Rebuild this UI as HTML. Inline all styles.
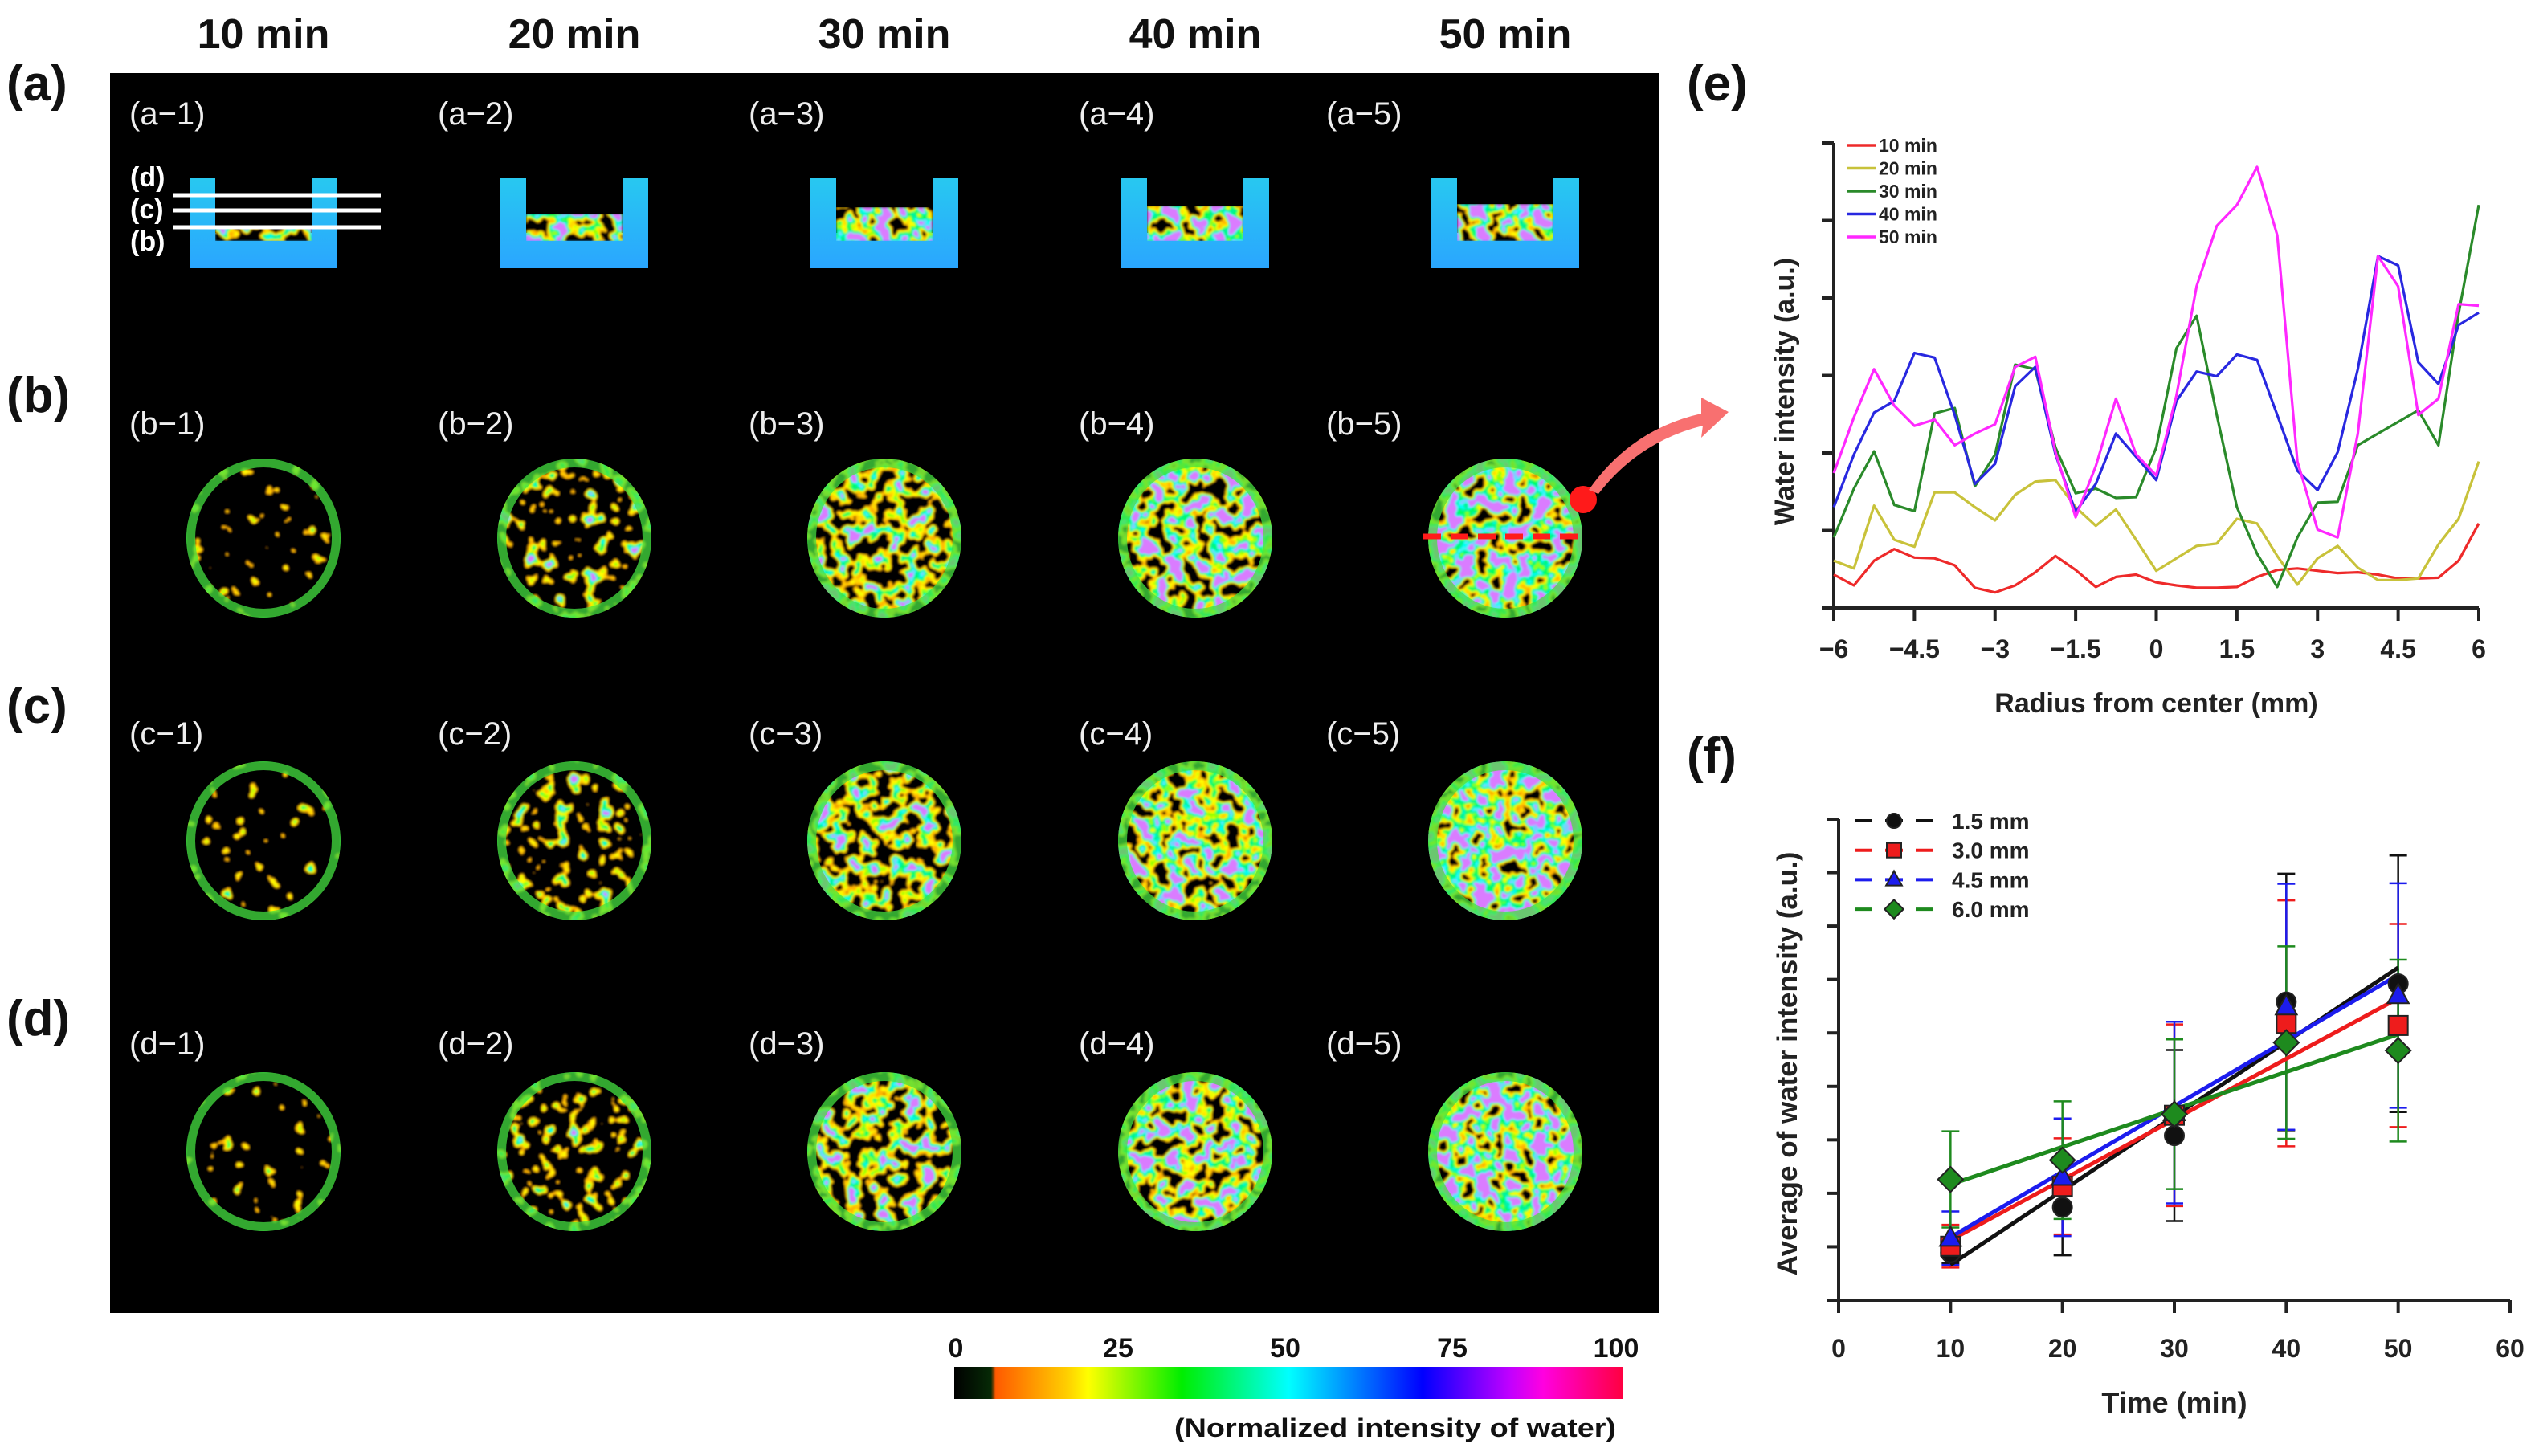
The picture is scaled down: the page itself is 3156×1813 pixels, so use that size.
<!DOCTYPE html>
<html><head><meta charset="utf-8">
<style>
html,body{margin:0;padding:0;background:#fff;}
svg{display:block;font-family:"Liberation Sans",Arial,sans-serif;}
</style></head>
<body>
<svg id="fig" width="3156" height="1813" viewBox="0 0 3156 1813" xmlns="http://www.w3.org/2000/svg">
<defs>
  <linearGradient id="cbar" x1="0" x2="1" y1="0" y2="0">
    <stop offset="0" stop-color="#000"/><stop offset="0.055" stop-color="#062a06"/>
    <stop offset="0.062" stop-color="#ff5a00"/><stop offset="0.17" stop-color="#ffd000"/>
    <stop offset="0.2" stop-color="#ffff00"/><stop offset="0.34" stop-color="#00ee00"/>
    <stop offset="0.5" stop-color="#00ffff"/><stop offset="0.7" stop-color="#0000ff"/>
    <stop offset="0.83" stop-color="#c000ff"/><stop offset="0.88" stop-color="#ff00e0"/>
    <stop offset="1" stop-color="#ff0040"/>
  </linearGradient>
  <linearGradient id="cupg" x1="0" x2="0" y1="0" y2="1">
    <stop offset="0" stop-color="#28c8f0"/><stop offset="1" stop-color="#2aa6ff"/>
  </linearGradient>
</defs>
<rect x="137" y="91" width="1928" height="1544" fill="#000"/>
<g id="mri"></g>
<g id="labels"></g>
<g id="colorbar">
  <rect x="1188" y="1702" width="833" height="40" fill="url(#cbar)"/>
  <g font-size="34" font-weight="bold" fill="#111" text-anchor="middle">
    <text x="1190" y="1690">0</text>
    <text x="1392" y="1690">25</text>
    <text x="1600" y="1690">50</text>
    <text x="1808" y="1690">75</text>
    <text x="2012" y="1690">100</text>
  </g>
  <text x="2012" y="1789" font-size="32" font-weight="bold" fill="#111" text-anchor="end" textLength="550" lengthAdjust="spacingAndGlyphs">(Normalized intensity of water)</text>
</g>
<g id="chartE"></g>
<g id="chartF"></g>
</svg>
<script>
// ---------- Chart (e) data ----------
const radiusMM = [-6,-5.625,-5.25,-4.875,-4.5,-4.125,-3.75,-3.375,-3,-2.625,-2.25,-1.875,-1.5,-1.125,-0.75,-0.375,0,0.375,0.75,1.125,1.5,1.875,2.25,2.625,3,3.375,3.75,4.125,4.5,4.875,5.25,5.625,6];
const eLabels = ["10 min","20 min","30 min","40 min","50 min"];
const eColors = ["#ee2a2a","#c8c23a","#2a8a2a","#2828e0","#ff28ff"];
const e10 = [0.43,0.29,0.61,0.76,0.65,0.64,0.55,0.26,0.20,0.29,0.46,0.67,0.49,0.27,0.40,0.43,0.33,0.29,0.26,0.26,0.27,0.40,0.49,0.51,0.48,0.45,0.46,0.43,0.38,0.38,0.39,0.61,1.09];
const e20 = [0.61,0.51,1.32,0.88,0.79,1.49,1.49,1.30,1.13,1.46,1.63,1.65,1.30,1.06,1.27,0.88,0.48,0.64,0.80,0.83,1.15,1.09,0.67,0.30,0.64,0.80,0.52,0.36,0.36,0.38,0.82,1.15,1.89];
const e30 = [0.91,1.54,2.02,1.33,1.25,2.51,2.58,1.57,1.98,3.14,3.08,2.07,1.48,1.54,1.42,1.43,2.07,3.35,3.77,2.49,1.30,0.70,0.27,0.91,1.36,1.37,2.10,2.25,2.40,2.55,2.10,3.80,5.20];
const e40 = [1.30,1.98,2.52,2.67,3.29,3.23,2.49,1.60,1.86,2.86,3.11,1.98,1.24,1.60,2.25,1.95,1.65,2.67,3.05,2.99,3.27,3.20,2.49,1.77,1.52,2.01,3.08,4.54,4.42,3.17,2.89,3.65,3.81];
const e50 = [1.74,2.46,3.08,2.61,2.35,2.43,2.10,2.25,2.37,3.11,3.24,2.01,1.17,1.83,2.70,1.98,1.71,2.74,4.15,4.93,5.20,5.69,4.81,1.89,1.01,0.91,2.25,4.54,4.15,2.49,2.70,3.92,3.90];
const eXTicks = [-6,-4.5,-3,-1.5,0,1.5,3,4.5,6];
const eXTickLabels = ["\u22126","\u22124.5","\u22123","\u22121.5","0","1.5","3","4.5","6"];
const eYTicks = [0,1,2,3,4,5,6];

// ---------- Chart (f) data ----------
const fTimes = [10,20,30,40,50];
const fLabels = ["1.5 mm","3.0 mm","4.5 mm","6.0 mm"];
const fColors = ["#111111","#ee1c1c","#1c1cee","#1e8a1e"];
const fMarkers = ["circle","square","triangle","diamond"];
const f15 = [0.89,1.74,3.08,5.58,5.92];
const f30 = [1.01,2.13,3.46,5.18,5.14];
const f45 = [1.16,2.30,3.51,5.49,5.70];
const f60 = [2.26,2.62,3.48,4.82,4.67];
const f15err = [0.2,0.9,1.6,2.4,2.4];
const f30err = [0.4,0.9,1.7,2.3,1.9];
const f45err = [0.5,1.1,1.7,2.3,2.1];
const f60err = [0.9,1.1,1.4,1.8,1.7];
const fXTicks = [0,10,20,30,40,50,60];
const fYTicks = [0,1,2,3,4,5,6,7,8,9];

const NS = "http://www.w3.org/2000/svg";
function mk(tag, attrs, parent){ const el=document.createElementNS(NS,tag); for(const k in attrs) el.setAttribute(k,attrs[k]); parent.appendChild(el); return el; }

// ---------- MRI panel ----------
const mri = document.getElementById('mri');
const defs = document.querySelector('defs');
const colX = [328,715,1101,1488,1874];
const rowY = [670,1047,1434];
const blackShift = [0.45,0.3,0.15,0.08,0.03];
for(let c=0;c<5;c++){
  const f = mk('filter',{id:'tex'+c,x:'0',y:'0',width:'1',height:'1'},defs);
  mk('feTurbulence',{type:'fractalNoise',baseFrequency:'0.055',numOctaves:'2',seed:String(3+c*7),result:'n'},f);
  const a=3.0, b=-0.95 - blackShift[c]*2 + c*0.04;
  mk('feColorMatrix',{type:'matrix',values:`${a} 0 0 0 ${b}  ${a} 0 0 0 ${b}  ${a} 0 0 0 ${b}  0 0 0 0 1`},f);
  const ct = mk('feComponentTransfer',{},f);
  mk('feFuncR',{type:'discrete',tableValues:'0 0 0 1 1 1 0.3 0 0 0 0.2 0.7'},ct);
  mk('feFuncG',{type:'discrete',tableValues:'0 0 0 0.45 0.7 1 1 1 0.9 1 0.6 0.2'},ct);
  mk('feFuncB',{type:'discrete',tableValues:'0 0 0 0 0 0 0 0.1 0.3 0.9 1 1'},ct);
  mk('feGaussianBlur',{stdDeviation:'1.2'},f);
  for(let r=0;r<3;r++){
    const cx=colX[c], cy=rowY[r];
    const cp = mk('clipPath',{id:`cp${c}${r}`},defs);
    mk('ellipse',{cx:cx,cy:cy,rx:96,ry:99},cp);
    const g = mk('g',{'clip-path':`url(#cp${c}${r})`},mri);
    
    
    mk('ellipse',{cx:cx,cy:cy,rx:96,ry:99,fill:'#22dd44'},g);
    mk('rect',{x:cx-96,y:cy-99,width:192,height:198,filter:`url(#tex${c})`},g);
    mk('ellipse',{cx:cx,cy:cy,rx:91,ry:94,fill:'none',stroke:'#44e040','stroke-width':12,opacity:0.75},g);
  }
  const cx=colX[c], top=222;
  const cup = mk('g',{},mri);
  
  
  mk('path',{d:`M${cx-92} ${top} h32 v68 h120 v-68 h32 v112 h-184 z`,fill:'url(#cupg)'},cup);
  const fillH = [18,36,44,46,48][c];
  mk('rect',{x:cx-60,y:top+68-fillH+12,width:120,height:fillH-2,filter:`url(#tex${Math.min(4,c+2)})`},cup);
}
[243,262,283].forEach((y,i)=>{
  const l = mk('line',{x1:215,x2:474,y1:y,y2:y,stroke:'#fff','stroke-width':5},mri);
  
  
});
[['(d)',232],['(c)',272],['(b)',312]].forEach(([t,y])=>{
  const e = mk('text',{x:162,y:y,fill:'#fff','font-size':34,'font-weight':'bold'},mri); e.textContent=t;
  
  
});
const dl = mk('line',{x1:1772,x2:1972,y1:668,y2:668,stroke:'#ff1a1a','stroke-width':7,'stroke-dasharray':'22 12'},mri);


const dot = mk('circle',{cx:1971,cy:622,r:17,fill:'#ff1a1a'},mri);


const arr = mk('path',{d:'M1978 610 Q2030 535 2118 515 L2118 495 L2152 513 L2118 545 L2120 530 Q2040 550 1990 615 Z',fill:'#f87070'},mri);



const lab = document.getElementById('labels');
const heads = ["10 min","20 min","30 min","40 min","50 min"];
heads.forEach((h,i)=>{
  const t = mk('text',{x:colX[i],y:60,'font-size':52,'font-weight':'bold','text-anchor':'middle',fill:'#111'},lab); t.textContent=h;
  
  
});
[['(a)',125],['(b)',513],['(c)',900],['(d)',1289],].forEach(([t,y])=>{
  const e = mk('text',{x:8,y:y,'font-size':62,'font-weight':'bold',fill:'#111'},lab); e.textContent=t;
  
  
});
const subX = [161,545,932,1343,1651];
const subY = [155,541,927,1313];
'abcd'.split('').forEach((r,ri)=>{
  for(let c=0;c<5;c++){
    const e = mk('text',{x:subX[c],y:subY[ri],'font-size':40,fill:'#eee'},lab); e.textContent=`(${r}\u2212${c+1})`;
    
    
  }
});
[['(e)',2100,125],['(f)',2100,962]].forEach(([t,x,y])=>{
  const e = mk('text',{x:x,y:y,'font-size':62,'font-weight':'bold',fill:'#111'},lab); e.textContent=t;
  
  
});

// ---------- Chart (e) ----------
(function(){
  const g = document.getElementById('chartE');
  const X0=2283, X1=3086, Y0=757, Y1=178;
  const sx = v => X0 + (v+6)/12*(X1-X0);
  const sy = v => Y0 - v/6*(Y0-Y1);
  const ax = mk('path',{d:`M${X0} ${Y1} V${Y0} M${X0-14} ${Y0} H${X1}`,stroke:'#222','stroke-width':4,fill:'none'},g);
  
  
  eYTicks.forEach(v=>{ const t=mk('line',{x1:X0-15,x2:X0,y1:sy(v),y2:sy(v),stroke:'#222','stroke-width':4},g);
    
     });
  eXTicks.forEach((v,i)=>{
    const t=mk('line',{x1:sx(v),x2:sx(v),y1:Y0,y2:Y0+16,stroke:'#222','stroke-width':4},g);
    
    
    const l=mk('text',{x:sx(v),y:Y0+62,'font-size':32,'font-weight':'bold','text-anchor':'middle',fill:'#222'},g); l.textContent=eXTickLabels[i];
    
    
  });
  const xt=mk('text',{x:(X0+X1)/2,y:887,'font-size':34,'font-weight':'bold','text-anchor':'middle',fill:'#222'},g); xt.textContent='Radius from center (mm)';
  
  
  const yt=mk('text',{x:0,y:0,'font-size':34,'font-weight':'bold','text-anchor':'middle',fill:'#222',transform:`translate(2233 ${(Y0+Y1)/2+20}) rotate(-90)`},g); yt.textContent='Water intensity (a.u.)';
  
  
  const series=[e10,e20,e30,e40,e50];
  series.forEach((s,k)=>{
    const d = s.map((v,i)=>(i?'L':'M')+sx(radiusMM[i]).toFixed(1)+' '+sy(v).toFixed(1)).join(' ');
    const p=mk('path',{d:d,fill:'none',stroke:eColors[k],'stroke-width':3.2,'stroke-linejoin':'round'},g);
    
    
    const ly = 181 + k*28.5;
    const ll=mk('line',{x1:2299,x2:2336,y1:ly,y2:ly,stroke:eColors[k],'stroke-width':3.5},g);
    
    
    const lt=mk('text',{x:2339,y:ly+8,'font-size':23,'font-weight':'bold',fill:'#222'},g); lt.textContent=eLabels[k];
    
    
  });
})();

// ---------- Chart (f) ----------
(function(){
  const g = document.getElementById('chartF');
  const X0=2289, X1=3125, Y0=1619, Y1=1020;
  const sx = v => X0 + v/60*(X1-X0);
  const sy = v => Y0 - v/9*(Y0-Y1);
  const ax=mk('path',{d:`M${X0} ${Y1} V${Y0} M${X0-15} ${Y0} H${X1}`,stroke:'#222','stroke-width':4,fill:'none'},g);
  
  
  fYTicks.forEach(v=>{ const t=mk('line',{x1:X0-15,x2:X0,y1:sy(v),y2:sy(v),stroke:'#222','stroke-width':4},g);
    
     });
  fXTicks.forEach(v=>{
    const t=mk('line',{x1:sx(v),x2:sx(v),y1:Y0,y2:Y0+16,stroke:'#222','stroke-width':4},g);
    
    
    const l=mk('text',{x:sx(v),y:Y0+71,'font-size':32,'font-weight':'bold','text-anchor':'middle',fill:'#222'},g); l.textContent=String(v);
    
    
  });
  const xt=mk('text',{x:(X0+X1)/2,y:1759,'font-size':36,'font-weight':'bold','text-anchor':'middle',fill:'#222'},g); xt.textContent='Time (min)';
  
  
  const yt=mk('text',{x:0,y:0,'font-size':35,'font-weight':'bold','text-anchor':'middle',fill:'#222',transform:`translate(2237 ${(Y0+Y1)/2+5}) rotate(-90)`},g); yt.textContent='Average of water intensity (a.u.)';
  
  
  const vals=[f15,f30,f45,f60], errs=[f15err,f30err,f45err,f60err];
  function marker(type,x,y,col,parent,s){
    let m;
    if(type==='circle') m=mk('circle',{cx:x,cy:y,r:s},parent);
    else if(type==='square') m=mk('rect',{x:x-s,y:y-s,width:2*s,height:2*s},parent);
    else if(type==='triangle') m=mk('path',{d:`M${x} ${y-s*1.2} L${x+s*1.1} ${y+s*0.8} L${x-s*1.1} ${y+s*0.8} Z`},parent);
    else m=mk('path',{d:`M${x} ${y-s*1.3} L${x+s*1.3} ${y} L${x} ${y+s*1.3} L${x-s*1.3} ${y} Z`},parent);
    m.setAttribute('fill',col); m.setAttribute('stroke','#222'); m.setAttribute('stroke-width',2);
    return m;
  }
  vals.forEach((s,k)=>{
    s.forEach((v,i)=>{
      const x=sx(fTimes[i]), e=errs[k][i];
      const eb=mk('path',{d:`M${x} ${sy(v-e)} V${sy(v+e)} M${x-11} ${sy(v-e)} h22 M${x-11} ${sy(v+e)} h22`,stroke:fColors[k],'stroke-width':2.5,fill:'none'},g);
      
      
    });
  });
  vals.forEach((s,k)=>{
    const n=s.length, mx=fTimes.reduce((a,b)=>a+b)/n, my=s.reduce((a,b)=>a+b)/n;
    let num=0,den=0; for(let i=0;i<n;i++){num+=(fTimes[i]-mx)*(s[i]-my);den+=(fTimes[i]-mx)**2;}
    const b=num/den, a=my-b*mx;
    const ln=mk('line',{x1:sx(10),y1:sy(a+b*10),x2:sx(50),y2:sy(a+b*50),stroke:fColors[k],'stroke-width':5},g);
    
    
  });
  vals.forEach((s,k)=>{
    s.forEach((v,i)=>{
      const m=marker(fMarkers[k],sx(fTimes[i]),sy(v),fColors[k],g,12);
      
      
    });
    const ly=1022+k*36.7;
    const ll=mk('line',{x1:2309,x2:2406,y1:ly,y2:ly,stroke:fColors[k],'stroke-width':4,'stroke-dasharray':'22 16'},g);
    
    
    const lm=marker(fMarkers[k],2358,ly,fColors[k],g,9);
    
    
    const lt=mk('text',{x:2430,y:ly+10,'font-size':28,'font-weight':'bold',fill:'#222'},g); lt.textContent=fLabels[k];
    
    
  });
})();
</script>
</body></html>
